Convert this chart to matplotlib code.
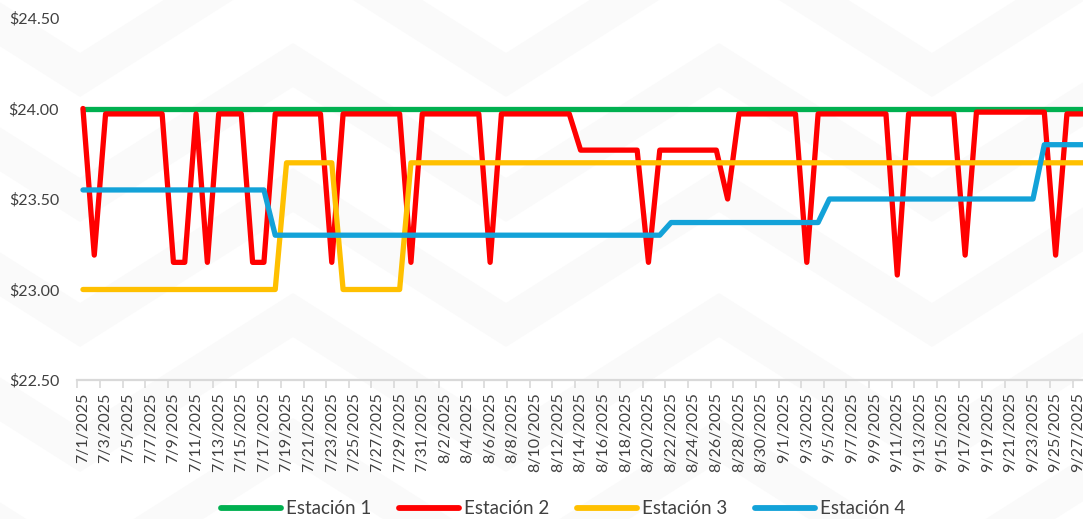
import matplotlib
matplotlib.use("Agg")
import matplotlib.pyplot as plt
from matplotlib.lines import Line2D
from matplotlib.ticker import FuncFormatter
import numpy as np
import pandas as pd

# ---- data -------------------------------------------------------------
dates = pd.date_range("2025-07-01", "2025-09-30", freq="D")
date_labels = [f"{d.month}/{d.day}/{d.year}" for d in dates]

series_names = ["Estación 1", "Estación 2", "Estación 3", "Estación 4"]

estacion_1 = [
    # julio
    24.00, 24.00, 24.00, 24.00, 24.00, 24.00, 24.00, 24.00, 24.00, 24.00,
    24.00, 24.00, 24.00, 24.00, 24.00, 24.00, 24.00, 24.00, 24.00, 24.00,
    24.00, 24.00, 24.00, 24.00, 24.00, 24.00, 24.00, 24.00, 24.00, 24.00,
    24.00,
    # agosto
    24.00, 24.00, 24.00, 24.00, 24.00, 24.00, 24.00, 24.00, 24.00, 24.00,
    24.00, 24.00, 24.00, 24.00, 24.00, 24.00, 24.00, 24.00, 24.00, 24.00,
    24.00, 24.00, 24.00, 24.00, 24.00, 24.00, 24.00, 24.00, 24.00, 24.00,
    24.00,
    # septiembre
    24.00, 24.00, 24.00, 24.00, 24.00, 24.00, 24.00, 24.00, 24.00, 24.00,
    24.00, 24.00, 24.00, 24.00, 24.00, 24.00, 24.00, 24.00, 24.00, 24.00,
    24.00, 24.00, 24.00, 24.00, 24.00, 24.00, 24.00, 24.00, 24.00, 24.00,
]

estacion_2 = [
    # julio
    24.00, 23.19, 23.97, 23.97, 23.97, 23.97, 23.97, 23.97, 23.15, 23.15,
    23.97, 23.15, 23.97, 23.97, 23.97, 23.15, 23.15, 23.97, 23.97, 23.97,
    23.97, 23.97, 23.15, 23.97, 23.97, 23.97, 23.97, 23.97, 23.97, 23.15,
    23.97,
    # agosto
    23.97, 23.97, 23.97, 23.97, 23.97, 23.15, 23.97, 23.97, 23.97, 23.97,
    23.97, 23.97, 23.97, 23.77, 23.77, 23.77, 23.77, 23.77, 23.77, 23.15,
    23.77, 23.77, 23.77, 23.77, 23.77, 23.77, 23.50, 23.97, 23.97, 23.97,
    23.97,
    # septiembre
    23.97, 23.97, 23.15, 23.97, 23.97, 23.97, 23.97, 23.97, 23.97, 23.97,
    23.08, 23.97, 23.97, 23.97, 23.97, 23.97, 23.19, 23.98, 23.98, 23.98,
    23.98, 23.98, 23.98, 23.98, 23.19, 23.97, 23.97, 23.97, 23.97, 23.97,
]

estacion_3 = [
    # julio
    23.00, 23.00, 23.00, 23.00, 23.00, 23.00, 23.00, 23.00, 23.00, 23.00,
    23.00, 23.00, 23.00, 23.00, 23.00, 23.00, 23.00, 23.00, 23.70, 23.70,
    23.70, 23.70, 23.70, 23.00, 23.00, 23.00, 23.00, 23.00, 23.00, 23.70,
    23.70,
    # agosto
    23.70, 23.70, 23.70, 23.70, 23.70, 23.70, 23.70, 23.70, 23.70, 23.70,
    23.70, 23.70, 23.70, 23.70, 23.70, 23.70, 23.70, 23.70, 23.70, 23.70,
    23.70, 23.70, 23.70, 23.70, 23.70, 23.70, 23.70, 23.70, 23.70, 23.70,
    23.70,
    # septiembre
    23.70, 23.70, 23.70, 23.70, 23.70, 23.70, 23.70, 23.70, 23.70, 23.70,
    23.70, 23.70, 23.70, 23.70, 23.70, 23.70, 23.70, 23.70, 23.70, 23.70,
    23.70, 23.70, 23.70, 23.70, 23.70, 23.70, 23.70, 23.70, 23.70, 23.70,
]

estacion_4 = [
    # julio
    23.55, 23.55, 23.55, 23.55, 23.55, 23.55, 23.55, 23.55, 23.55, 23.55,
    23.55, 23.55, 23.55, 23.55, 23.55, 23.55, 23.55, 23.30, 23.30, 23.30,
    23.30, 23.30, 23.30, 23.30, 23.30, 23.30, 23.30, 23.30, 23.30, 23.30,
    23.30,
    # agosto
    23.30, 23.30, 23.30, 23.30, 23.30, 23.30, 23.30, 23.30, 23.30, 23.30,
    23.30, 23.30, 23.30, 23.30, 23.30, 23.30, 23.30, 23.30, 23.30, 23.30,
    23.30, 23.37, 23.37, 23.37, 23.37, 23.37, 23.37, 23.37, 23.37, 23.37,
    23.37,
    # septiembre
    23.37, 23.37, 23.37, 23.37, 23.50, 23.50, 23.50, 23.50, 23.50, 23.50,
    23.50, 23.50, 23.50, 23.50, 23.50, 23.50, 23.50, 23.50, 23.50, 23.50,
    23.50, 23.50, 23.50, 23.80, 23.80, 23.80, 23.80, 23.80, 23.80, 23.80,
]

y_ticks = [22.50, 23.00, 23.50, 24.00, 24.50]

# ---- style ------------------------------------------------------------
series_colors = ["#00B050", "#FF0000", "#FFC000", "#13A2D8"]
text_color = "#404040"
axis_gray = "#d9d9d9"
line_w = 3.8

plt.rcParams["font.family"] = ["Lato", "DejaVu Sans"]

W, H = 1083, 519
fig = plt.figure(figsize=(W / 100, H / 100), dpi=100)
fig.patch.set_facecolor("white")

# faint chevron wallpaper behind the chart
bg = fig.add_axes([0, 0, 1, 1], zorder=-5)
bg.set_xlim(0, W)
bg.set_ylim(H, 0)
bg.axis("off")
xs = np.linspace(-50, W + 50, 800)
half = 213.0
amp = 135.0
phase = (xs - 293.0) / (2 * half)
tri = np.abs(((phase + 0.5) % 1.0) - 0.5) * 2  # 0 at apex, 1 at trough
for k in range(-4, 7):
    yc = -60 + k * 125 + amp * tri
    bg.fill_between(xs, yc - 22, yc + 22, color="#fafafa", lw=0)

# main plotting area
left_px, top_px, bottom_px = 77.3, 18.0, 380.0
step_px = 11.31
ax = fig.add_axes([left_px / W, (H - bottom_px) / H,
                   1 - left_px / W, (bottom_px - top_px) / H])
ax.set_facecolor("none")

x = np.arange(len(dates))
for name, vals, col in zip(series_names,
                           [estacion_1, estacion_2, estacion_3, estacion_4],
                           series_colors):
    ax.plot(x, vals, color=col, lw=line_w, solid_joinstyle="round",
            solid_capstyle="round", label=name)

ax.set_yticks(y_ticks)
ax.yaxis.set_major_formatter(FuncFormatter(lambda v, p: f"${v:.2f}"))
ax.tick_params(axis="y", length=0, pad=13, labelsize=11.5, labelcolor=text_color)

ax.set_xticks(x[::2])
ax.set_xticklabels(date_labels[::2], rotation=90)
ax.set_xticks(np.arange(-0.5, len(x), 2), minor=True)
ax.tick_params(axis="x", which="major", length=0, pad=9, labelsize=11.5,
               labelcolor=text_color)
ax.tick_params(axis="x", which="minor", length=6, width=1.2, color=axis_gray)

# the visible window ends part-way through late September
ax.set_xlim(-0.5, -0.5 + (W - left_px) / step_px)
ax.set_ylim(22.5, 24.5)

for side in ["left", "right", "top"]:
    ax.spines[side].set_visible(False)
ax.spines["bottom"].set_color(axis_gray)
ax.spines["bottom"].set_linewidth(1.6)

handles = [Line2D([], [], color=c, lw=4.2, solid_capstyle="round")
           for c in series_colors]
fig.legend(handles, series_names, loc="center",
           bbox_to_anchor=(563 / W, 10 / H), ncol=4, frameon=False,
           fontsize=13.5, labelcolor=text_color, handlelength=3.2,
           handletextpad=0.25, columnspacing=1.5)

fig.savefig("out.png", dpi=100, facecolor="white")
